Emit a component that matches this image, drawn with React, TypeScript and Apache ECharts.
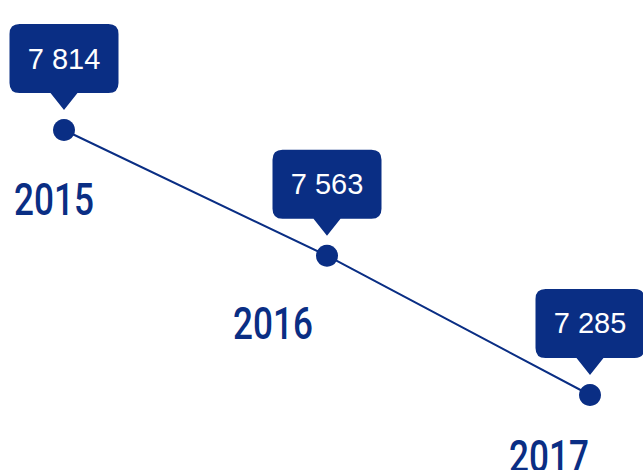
import React, { useEffect, useRef } from "react";
import * as echarts from "echarts";

const years = ["2015", "2016", "2017"];
const values = [7814, 7563, 7285];

const NAVY = "#0a2e84";

// callout shape: rounded box with a pointer underneath
const CALLOUT =
  "path://M10,0 L99,0 Q109,0 109,10 L109,59 Q109,69 99,69 L68,69 L54.5,86 L41,69 L10,69 Q0,69 0,59 L0,10 Q0,0 10,0 Z";

function fmt(v: number): string {
  return String(v).replace(/\B(?=(\d{3})+(?!\d))/g, " ");
}

export default function App() {
  const ref = useRef<HTMLDivElement>(null);

  useEffect(() => {
    if (!ref.current) return;
    const chart = echarts.init(ref.current, null, { renderer: "svg" });
    const labelOffsets = [
      [-10, 70],
      [-54, 68],
      [-41, 62],
    ];
    chart.setOption({
      animation: false,
      grid: { left: 64, right: 53, top: 86.92, bottom: 32.42 },
      xAxis: {
        type: "category",
        data: years,
        boundaryGap: false,
        show: false,
      },
      yAxis: {
        type: "value",
        min: 7200,
        max: 7900,
        show: false,
      },
      series: [
        {
          type: "line",
          data: values,
          symbol: "circle",
          symbolSize: 22,
          lineStyle: { color: NAVY, width: 2 },
          itemStyle: { color: NAVY },
          markPoint: {
            symbol: CALLOUT,
            symbolSize: [109, 86],
            symbolOffset: [0, -63],
            itemStyle: { color: NAVY },
            label: {
              show: true,
              position: "inside",
              offset: [0, -8.5],
              color: "#ffffff",
              fontFamily: "'Liberation Sans', Arial, sans-serif",
              fontSize: 29,
              formatter: (p: any) => fmt(p.value),
            },
            data: values.map((v, i) => ({
              coord: [years[i], v],
              value: v,
            })),
          },
        },
        {
          type: "custom",
          data: values.map((v, i) => [i, v]),
          silent: true,
          renderItem: (params: any, api: any) => {
            const idx = params.dataIndex;
            const pt = api.coord([api.value(0), api.value(1)]);
            const off = labelOffsets[idx];
            return {
              type: "text",
              x: pt[0] + off[0],
              y: pt[1] + off[1],
              scaleX: 0.78,
              style: {
                text: years[idx],
                fill: NAVY,
                font: "500 45px Roboto, 'Liberation Sans', sans-serif",
                align: "center",
                verticalAlign: "middle",
              },
            };
          },
        },
      ],
    });
    return () => chart.dispose();
  }, []);

  return (
    <div
      ref={ref}
      style={{ position: "fixed", left: 0, top: 0, width: 643, height: 470, background: "#ffffff" }}
    />
  );
}
